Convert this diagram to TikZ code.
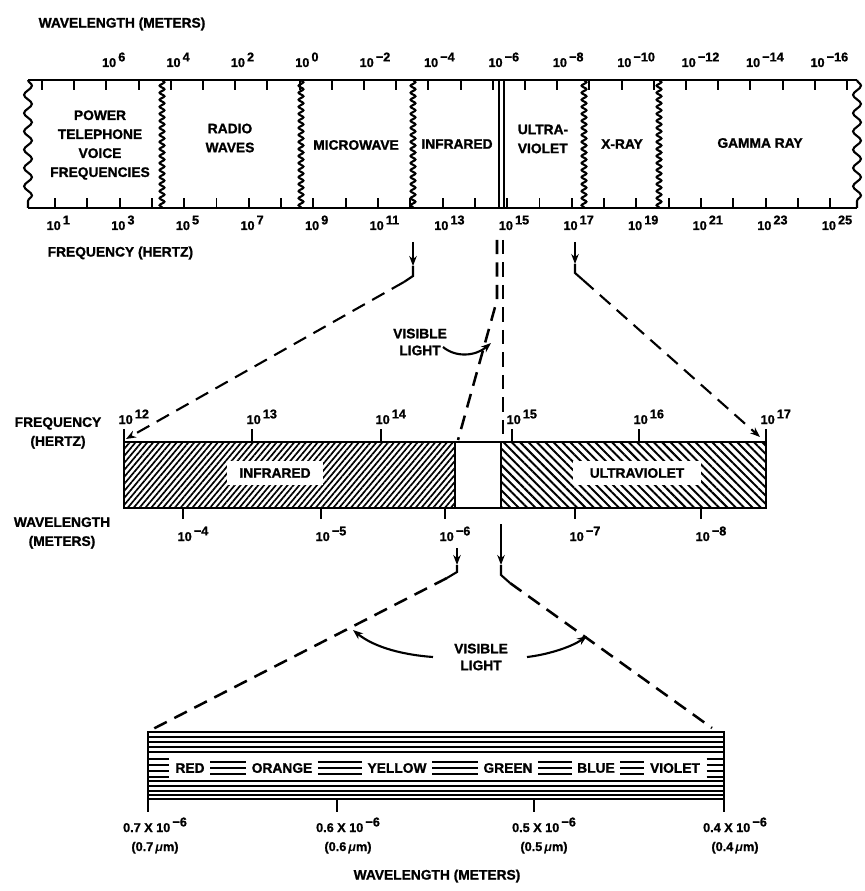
\documentclass[tikz,border=0pt]{standalone}
\usepackage{fontspec}
\setmainfont{Liberation Sans}[BoldFeatures={FakeBold=1.2}]
\usetikzlibrary{arrows.meta, positioning, calc, decorations.pathmorphing, patterns.meta}

\newcommand{\tenexp}[1]{10\,\raisebox{4pt}{#1}}

\begin{document}
\begin{tikzpicture}[
    x=0.025cm, y=-0.025cm,
    lbl/.style={font=\fontsize{9.8}{13.5}\selectfont\bfseries, inner sep=1pt, align=center},
    num/.style={font=\fontsize{9}{10}\selectfont\bfseries, inner sep=1pt},
    barline/.style={line width=2pt},
    tickline/.style={line width=1.4pt},
    stripe/.style={line width=1.1pt},
    wavy/.style={line width=1.5pt, decorate, decoration={snake, segment length=5pt, amplitude=1.7pt}},
    bigwavy/.style={line width=1.5pt, decorate, decoration={snake, segment length=13pt, amplitude=2.8pt}},
    dashline/.style={line width=1.8pt, dash pattern=on 10pt off 6pt},
    arrow/.style={-{Stealth[length=2.5mm]}, line width=1.5pt}
]
\useasboundingbox (0,0) rectangle (864,891);

% top spectrum bar
\coordinate (topNW) at (28,80);
\coordinate (topNE) at (857,80);
\coordinate (topSW) at (28,208);
\coordinate (topSE) at (857,208);
\draw[barline] (topNW) -- (topNE) (topSW) -- (topSE);
\draw[bigwavy] (topNW) -- (topSW);
\draw[bigwavy] (topNE) -- (topSE);
\foreach \x in {162,301,413,584,659}
  \draw[wavy] (\x,80) -- (\x,208);
\draw[line width=1.2pt] (499,80) -- (499,208) (504,80) -- (504,208);

\foreach \k in {0,...,25}
  \draw[tickline] ({42+32.2*\k},80) -- ++(0,10);
\foreach \k/\e in {2/6,4/4,6/2,8/0,10/−2,12/−4,14/−6,16/−8,18/−10,20/−12,22/−14,24/−16}
  \node[num, anchor=base west] (wl\k) at ({36+32.2*\k},67) {\tenexp{\e}};
\foreach \k in {0,...,24}
  \draw[tickline] ({55+32.3*\k},208) -- ++(0,-10);
\foreach \k/\e in {0/1,2/3,4/5,6/7,8/9,10/11,12/13,14/15,16/17,18/19,20/21,22/23,24/25}
  \node[num, anchor=base west] (fq\k) at ({45+32.3*\k},230) {\tenexp{\e}};

\node[lbl, anchor=west] (wltitle) at (37,24) {WAVELENGTH (METERS)};
\node[lbl, anchor=west] (fqtitle) at (46,253) {FREQUENCY (HERTZ)};

\node[lbl] (power) at (100,145) {POWER\\TELEPHONE\\VOICE\\FREQUENCIES};
\node[lbl] (radio) at (230,138) {RADIO\\WAVES};
\node[lbl] (micro) at (356,145) {MICROWAVE};
\node[lbl] (infra) at (457,144) {INFRARED};
\node[lbl, align=left] (ultra) at (543,139) {ULTRA-\\VIOLET};
\node[lbl] (xray) at (622,144) {X-RAY};
\node[lbl] (gamma) at (760,143) {GAMMA RAY};

% middle bar: infrared, visible, ultraviolet
\coordinate (midNW) at (124,442);
\coordinate (midNE) at (766,442);
\coordinate (midSE) at (766,508);
\coordinate (visNW) at (455,442);
\coordinate (visNE) at (501,442);
\coordinate (visSW) at (455,508);
\coordinate (visSE) at (501,508);
\fill[pattern={Lines[angle=50,distance=3.2pt,line width=1.2pt]}] (midNW) rectangle (visSW);
\fill[pattern={Lines[angle=-45,distance=4.2pt,line width=1.4pt]}] (visNE) rectangle (midSE);
\draw[barline] (midNW) rectangle (midSE);
\draw[barline] (visNW) -- (visSW) (visNE) -- (visSE);
\node[lbl, fill=white, inner xsep=9pt, inner ysep=5pt] (irlab) at (275,473) {INFRARED};
\node[lbl, fill=white, inner xsep=12pt, inner ysep=5pt] (uvlab) at (637,473) {ULTRAVIOLET};

\foreach \x/\e in {124/12,252/13,381/14,512/15,639/16,766/17} {
  \draw[tickline] (\x,442) -- ++(0,-13);
  \node[num, anchor=base west] (mf\e) at (\x-7,424) {\tenexp{\e}};
}
\foreach \x/\e in {183/4,321/5,445/6,575/7,701/8} {
  \draw[tickline] (\x,508) -- ++(0,11);
  \node[num, anchor=base west] (mw\e) at (\x-7,541) {\tenexp{−\e}};
}
\node[lbl] (midfq) at (58,433) {FREQUENCY\\(HERTZ)};
\node[lbl] (midwl) at (62,533) {WAVELENGTH\\(METERS)};

% top bar to middle bar
\coordinate (irdrop) at (413,242);
\coordinate (irmid) at (413,266);
\coordinate (irbend) at (404,282);
\draw[arrow] (irdrop) -- (irmid);
\draw[line width=1.5pt] (irmid) -- (413,276) -- (irbend);
\draw[dashline, arrow] (irbend) -- ($(midNW)+(2,-3)$);

\coordinate (uvdrop) at (575,242);
\coordinate (uvmid) at (575,264);
\coordinate (uvbend) at (583,280);
\draw[arrow] (uvdrop) -- (uvmid);
\draw[line width=1.5pt] (uvmid) -- (575,273) -- (uvbend);
\draw[dashline, arrow] (uvbend) -- ($(midNE)+(-6,-5)$);

\coordinate (visA) at (497,240);
\coordinate (visB) at (503,240);
\draw[dashline] (visA) -- (497,300) -- ($(visNW)+(3,-2)$);
\draw[dashline] (visB) -- (503,440);

\node[lbl, font=\fontsize{9.8}{12}\selectfont\bfseries] (vis1) at (420,342) {VISIBLE\\LIGHT};
\draw[arrow] (443,347) .. controls (456,358) and (476,356) .. (491,343);

% middle bar to bottom bar
\coordinate (lowNW) at (148,732);
\coordinate (lowNE) at (724,732);
\coordinate (lowSE) at (724,799);
\coordinate (rdrop) at (457,548);
\coordinate (rmid) at (457,565);
\coordinate (rbend) at (447,578);
\draw[arrow] (rdrop) -- (rmid);
\draw[line width=1.5pt] (rmid) -- (457,572) -- (rbend);
\draw[dashline] (rbend) -- ($(lowNW)+(3,-2)$);

\coordinate (vdrop) at (501,524);
\coordinate (vmid) at (501,565);
\coordinate (vbend) at (510,583);
\draw[arrow] (vdrop) -- (vmid);
\draw[line width=1.5pt] (vmid) -- (501,575) -- (vbend);
\draw[dashline] (vbend) -- ($(lowNE)+(-12,-4)$);

\node[lbl, font=\fontsize{9.8}{12}\selectfont\bfseries] (vis2) at (481,657) {VISIBLE\\LIGHT};
\draw[arrow] (433,657) .. controls (405,655) and (375,648) .. (353,630);
\draw[arrow] (527,657) .. controls (545,655) and (570,648) .. (587,636);

% bottom bar: colour bands
\draw[barline] (lowNW) rectangle (lowSE);
\foreach \y in {737,742,747,752,781,786,791,795}
  \draw[stripe] (148,\y) -- (724,\y);
\node[lbl] (red) at (190,768) {RED};
\node[lbl] (orange) at (282,768) {ORANGE};
\node[lbl] (yellow) at (397,768) {YELLOW};
\node[lbl] (green) at (508,768) {GREEN};
\node[lbl] (blue) at (596,768) {BLUE};
\node[lbl] (violet) at (675,768) {VIOLET};
\foreach \a/\b in {red/orange,orange/yellow,yellow/green,green/blue,blue/violet}
  \foreach \d in {-6,0,6}
    \draw[stripe] ($(\a.east)+(4,\d)$) -- ($(\b.west)+(-4,\d)$);
\foreach \d in {-9,-3,3,9} {
  \draw[stripe] (148,768+\d) -- ($(red.west)+(-5,\d)$);
  \draw[stripe] ($(violet.east)+(5,\d)$) -- (724,768+\d);
}

\foreach \x/\c/\v [count=\i] in {148/155/0.7,337/348/0.6,534/544/0.5,724/735/0.4} {
  \draw[tickline] (\x,799) -- ++(0,13);
  \node[num, anchor=base] (wa\i) at (\c,832) {\v\ X \tenexp{−6}};
  \node[num, anchor=base] (wb\i) at (\c,851) {(\v\,\textit{μ}m)};
}
\node[lbl] (wlbottom) at (437,876) {WAVELENGTH (METERS)};

\end{tikzpicture}
\end{document}
